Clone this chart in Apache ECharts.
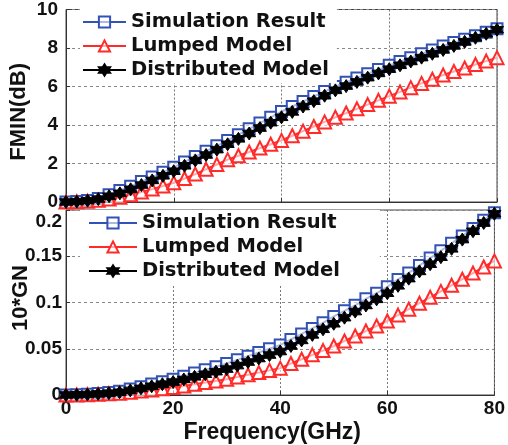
<!DOCTYPE html>
<html><head><meta charset="utf-8">
<script src="https://cdn.jsdelivr.net/npm/echarts@6/dist/echarts.min.js"></script>
<style>html,body{margin:0;padding:0;background:#fff}#c{width:508px;height:445px}</style>
</head><body><div id="c"></div>
<script>
var freq = [0,2,4,6,8,10,12,14,16,18,20,22,24,26,28,30,32,34,36,38,40,42,44,46,48,50,52,54,56,58,60,62,64,66,68,70,72,74,76,78,80];
var xTicks = [0,20,40,60,80];
var fminSim = [0,0.02,0.08,0.18,0.38,0.6,0.82,1.06,1.3,1.55,1.8,2.08,2.36,2.64,2.92,3.2,3.5,3.8,4.1,4.4,4.7,4.96,5.22,5.48,5.74,6.0,6.22,6.44,6.66,6.88,7.1,7.3,7.5,7.7,7.9,8.1,8.28,8.46,8.64,8.82,9.0];
var fminLumped = [0,0.01,0.04,0.09,0.16,0.25,0.38,0.52,0.67,0.83,1.0,1.22,1.45,1.7,1.95,2.2,2.4,2.6,2.8,3.0,3.2,3.44,3.68,3.92,4.16,4.4,4.62,4.84,5.06,5.28,5.5,5.72,5.94,6.16,6.38,6.6,6.78,6.96,7.14,7.32,7.5];
var fminDist = [0,0.02,0.07,0.15,0.3,0.45,0.66,0.88,1.12,1.36,1.6,1.88,2.16,2.44,2.72,3.0,3.28,3.56,3.84,4.12,4.4,4.68,4.96,5.24,5.52,5.8,6.02,6.24,6.46,6.68,6.9,7.1,7.3,7.5,7.7,7.9,8.11,8.32,8.53,8.74,8.95];
var gnSim = [0,0.0002,0.0007,0.0015,0.0026,0.004,0.0064,0.009,0.0118,0.0144,0.017,0.0204,0.0238,0.0272,0.0306,0.034,0.038,0.042,0.046,0.050,0.054,0.060,0.066,0.072,0.078,0.085,0.091,0.097,0.104,0.110,0.117,0.125,0.132,0.140,0.148,0.156,0.164,0.172,0.180,0.189,0.197];
var gnLumped = [0,0.0001,0.0004,0.0008,0.0013,0.002,0.003,0.0042,0.0055,0.0068,0.008,0.0098,0.0116,0.0134,0.0152,0.017,0.0194,0.0218,0.0242,0.0266,0.029,0.034,0.0386,0.0434,0.048,0.053,0.0584,0.0638,0.0692,0.0746,0.080,0.0864,0.0928,0.0992,0.1056,0.112,0.1186,0.1252,0.1318,0.1384,0.145];
var gnDist = [0,0.0002,0.0006,0.0012,0.002,0.003,0.005,0.0072,0.0094,0.0117,0.014,0.0168,0.0196,0.0224,0.0252,0.028,0.0318,0.0356,0.0394,0.0432,0.047,0.053,0.059,0.065,0.071,0.077,0.0836,0.0902,0.0968,0.1034,0.110,0.118,0.1258,0.1336,0.1414,0.149,0.158,0.168,0.177,0.186,0.196];
var seriesNames = ['Simulation Result','Lumped Model','Distributed Model'];
var yNames = ['FMIN(dB)','10*GN'];
var xName = 'Frequency(GHz)';

function pairs(ys){ return freq.map(function(f,i){ return [f, ys[i]]; }); }
var hexagram = 'path://M1000,0 L1289,500 L1866,500 L1577,1000 L1866,1500 L1289,1500 L1000,2000 L711,1500 L134,1500 L423,1000 L134,500 L711,500 Z';
var BLUE = '#3352b5', RED = '#ff2a2a', BLACK = '#000';
var FONT = '"Liberation Sans", Arial, sans-serif';

function mk(name, ys, gi, color, symbol, size, filled, z){
  return {
    name: name, type: 'line', xAxisIndex: gi, yAxisIndex: gi,
    data: pairs(ys), symbol: symbol, symbolSize: size, showAllSymbol: true,
    z: z, animation: false,
    lineStyle: { color: color, width: 2 },
    itemStyle: { color: filled ? color : 'rgba(255,255,255,0.6)', borderColor: color, borderWidth: filled ? 1 : 2 }
  };
}

var grids = [
  { left: 66, right: 11, top: 9, height: 193, show: true, borderColor: '#444', borderWidth: 1 },
  { left: 66, right: 11, top: 210, height: 191, show: true, borderColor: '#444', borderWidth: 1 }
];
function xAx(gi, showLabels){
  return { type: 'value', gridIndex: gi, min: 0, max: 80, interval: 20,
    axisLine: { show: true, lineStyle: { color: '#333', width: 1 } },
    axisTick: { show: true, inside: true, length: 4, lineStyle: { color: '#333' } },
    axisLabel: { show: showLabels, margin: 4, color: '#111', fontFamily: FONT, fontWeight: 'bold', fontSize: 19,
      formatter: function(v){ return xTicks.indexOf(v) >= 0 ? String(v) : ''; } },
    splitLine: { show: true, lineStyle: { color: '#777', type: [2,2], width: 1 } },
    name: showLabels ? xName : '', nameLocation: 'middle', nameGap: 26,
    nameTextStyle: { color: '#111', fontFamily: FONT, fontWeight: 'bold', fontSize: 23, padding: [0,16,0,0] }
  };
}
function yAx(gi, max, interval, margin, shiftTop){
  return { type: 'value', gridIndex: gi, min: 0, max: max, interval: interval,
    axisLine: { show: true, lineStyle: { color: '#333', width: 1 } },
    axisTick: { show: true, inside: true, length: 4, lineStyle: { color: '#333' } },
    axisLabel: { margin: margin, color: '#111', fontFamily: FONT, fontWeight: 'bold', fontSize: 19,
      formatter: function(v){ return (shiftTop && v === max) ? '{top|' + v + '}' : String(v); },
      rich: { top: { fontFamily: FONT, fontWeight: 'bold', fontSize: 19, color: '#111', padding: [24,0,0,0] } } },
    splitLine: { show: true, lineStyle: { color: '#888', type: [3,3], width: 1 } }
  };
}
function legend(top, left, padding, itemWidth){
  return { show: true, orient: 'vertical', left: left, top: top, padding: padding,
    backgroundColor: '#fff', itemGap: 4, itemWidth: itemWidth, itemHeight: 14,
    data: seriesNames,
    textStyle: { fontFamily: '"DejaVu Sans", sans-serif', fontWeight: 'bold', fontSize: 19.5, color: '#111', lineHeight: 20 } };
}

var chart = echarts.init(document.getElementById('c'), null, { renderer: 'canvas' });
chart.setOption({
  animation: false,
  backgroundColor: '#fff',
  grid: grids,
  xAxis: [xAx(0, false), xAx(1, true)],
  yAxis: [yAx(0, 10, 2, 8, false), yAx(1, 0.2, 0.05, 4, true)],
  legend: [legend(9, 80, [3, 8, 3, 2], 43), legend(210, 80, [3, 40, 4, 8], 48)],
  graphic: [
    { type: 'text', left: 8, top: 63, rotation: Math.PI/2, style: { text: yNames[0], fill: '#111', font: 'bold 22px ' + FONT } },
    { type: 'text', left: 10, top: 265, rotation: Math.PI/2, style: { text: yNames[1], fill: '#111', font: 'bold 22px ' + FONT } }
  ],
  series: [
    mk(seriesNames[0], fminSim, 0, BLUE, 'rect', 11, false, 2),
    mk(seriesNames[1], fminLumped, 0, RED, 'triangle', 13, false, 3),
    mk(seriesNames[2], fminDist, 0, BLACK, hexagram, 13, true, 4),
    mk(seriesNames[0], gnSim, 1, BLUE, 'rect', 11, false, 2),
    mk(seriesNames[1], gnLumped, 1, RED, 'triangle', 13, false, 3),
    mk(seriesNames[2], gnDist, 1, BLACK, hexagram, 13, true, 4)
  ]
});
</script></body></html>
